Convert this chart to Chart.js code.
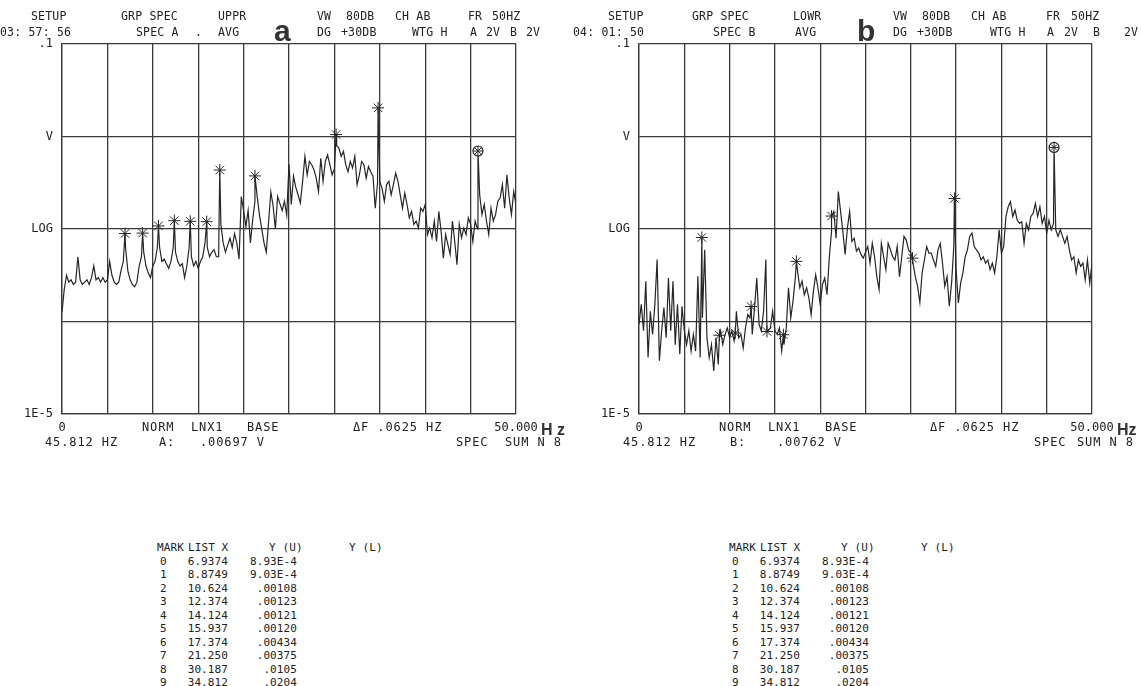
<!DOCTYPE html>
<html>
<head>
<meta charset="utf-8">
<script src="https://cdn.jsdelivr.net/npm/chart.js@4.4.1/dist/chart.umd.min.js"></script>
<style>
body { margin: 0; background: #fff; }
#page { position: relative; width: 1141px; height: 686px; overflow: hidden; background: #fff;
        font-family: "DejaVu Sans Mono", monospace; color: #222; }
canvas { position: absolute; top: 0; }
.t { position: absolute; font-size: 12px; line-height: 12px; letter-spacing: 0.9px; white-space: pre; color: #222; }
.h { position: absolute; font-size: 11.5px; line-height: 12px; letter-spacing: 0.2px; white-space: pre; color: #222; }
.m { position: absolute; font-size: 11px; line-height: 12px; letter-spacing: 0.1px; white-space: pre; color: #222; }
.big { position: absolute; font-family: "Liberation Sans", Arial, sans-serif; font-weight: bold;
       font-size: 30px; line-height: 30px; color: #333; }
.hz { position: absolute; font-family: "Liberation Sans", Arial, sans-serif; font-weight: bold;
      font-size: 16px; line-height: 16px; white-space: pre; color: #333; }
</style>
</head>
<body>
<div id="page">
  <canvas id="chartA" width="570" height="470" style="left:0"></canvas>
  <canvas id="chartB" width="571" height="470" style="left:570px"></canvas>
</div>
<script>
// DATA

var traceStepHz = 0.25;   // spacing of the trace samples, 0 .. 50 Hz

// spectrum A (upper), dB re 1 V, one row per 5 Hz
var traceA_dB = [
  -78,-73,-70,-71.5,-71,-72,-71.5,-66,-71,-72,-71.5,-71,-72,-70.5,-68,-71,-70.5,-71.5,-70.5,-71.5,
  -71,-67,-70,-71.5,-72,-71.5,-69,-67,-64,-69,-71,-72,-72.5,-71.5,-68,-66,-65,-68,-69.5,-70.5,
  -68,-67,-64,-64,-67,-66.5,-67.5,-68.5,-67,-64,-65,-67,-68,-67.5,-70.5,-68,-64,-66,-68,-67,
  -68.5,-67,-66,-63,-64,-66,-65,-64.5,-66,-66,-59,-63,-65,-63.5,-62,-64,-61,-63,-66.5,-53,
  -56,-59.5,-56,-63,-58,-54,-53,-57,-60,-63,-65,-58.5,-52,-55,-60,-53,-54.5,-56,-54,-57,
  -46,-54.7,-48.6,-51,-52.6,-54.4,-49.7,-44.3,-48.3,-45.4,-46.1,-47.2,-49,-51.9,-44.7,-49.7,-45.4,-44,-46.1,-48.3,
  -47,-42,-42.5,-44.3,-43.2,-46.1,-47.6,-45.4,-46.8,-44.3,-50.4,-48.3,-45.4,-46.1,-49,-46.5,-47.6,-48.6,-55.5,-50,
  -49.7,-51.2,-54,-50.4,-49.7,-52.6,-50.4,-47.9,-49.7,-52.6,-55.5,-52.2,-54.7,-57.6,-56.2,-59,-58.3,-59.8,-55.5,-56.2,
  -54.7,-61.2,-59.8,-61.9,-58.3,-62.7,-56.2,-60.5,-66.3,-61.2,-63.4,-65.5,-58.3,-62.7,-67.7,-59,-61.9,-59.8,-61.2,-57.6,
  -59,-62.7,-58.3,-60,-52.6,-56.9,-54.7,-58.3,-61.2,-55.5,-58.3,-56.9,-54,-53.3,-50.4,-55.5,-48.3,-53.3,-56.9,-51.9,
  -54.7
];

// spectrum B (lower), dB re 1 V, one row per 5 Hz
var traceB_dB = [
  -80.6,-76.3,-82,-71.3,-87.8,-77.8,-82.8,-76.3,-66.6,-88.5,-82,-77,-83.5,-70.6,-82,-71.3,-85,-76.3,-87.1,-76.7,
  -82,-85,-82,-86.4,-82.8,-86.4,-70.2,-87.8,-79.2,-64.5,-83.5,-87.8,-85,-90.7,-83.5,-89.3,-82,-85,-82.8,-81.4,
  -83.5,-82,-84.2,-77.8,-83.5,-82.8,-85.7,-81.4,-78.5,-79.2,-82.8,-77,-70.6,-80.6,-82,-77.8,-66.6,-82,-81.4,-77.8,
  -82,-82.8,-81.4,-86.4,-85,-81.4,-72.7,-79.2,-75.6,-70.6,-69.1,-72.7,-71.3,-74.2,-72.7,-74.9,-78.5,-73.5,-69.9,-72.7,
  -76.3,-72,-70.6,-74.2,-66.3,-60.5,-56.2,-62,-51.9,-56.2,-60.5,-65.5,-59.8,-56.2,-62.7,-62,-64.8,-64.1,-65.5,-66.3,
  -65,-63.8,-67.4,-63.1,-66,-70.3,-73.1,-63.1,-66,-68.8,-63.1,-64.5,-66,-66.7,-63.8,-70.3,-66,-61.6,-62.4,-64.5,
  -65.2,-67.4,-70.3,-72.4,-75.9,-69.5,-66.7,-63.8,-65.2,-65.2,-66.7,-68.1,-64.5,-63.1,-67.4,-72.4,-70.3,-76.7,-71.7,-63.8,
  -68.8,-76,-71.7,-69.5,-66,-64.5,-61.6,-60.9,-63.8,-64.5,-65.2,-66.7,-66,-67.4,-66.7,-68.8,-67.4,-69.5,-66,-60.2,
  -65.2,-63.8,-57.3,-55.2,-54.1,-57.3,-55.9,-58.1,-58.8,-58.4,-63.1,-58.8,-60.2,-57.3,-56.6,-54.5,-57.3,-55.2,-58.8,-57.3,
  -60.9,-58.1,-60.2,-58.8,-60.2,-61.6,-60.2,-61.6,-63.1,-61.6,-64.5,-66.7,-66,-69.5,-66.7,-68.1,-67.4,-71,-66.7,-71.7,
  -67.4
];

// marker list (Hz, V)
var markX  = [6.9374, 8.8749, 10.624, 12.374, 14.124, 15.937, 17.374, 21.250, 30.187, 34.812];
var markYA = [8.93e-4, 9.03e-4, 0.00108, 0.00123, 0.00121, 0.00120, 0.00434, 0.00375, 0.0105, 0.0204];
var markYB = [8.1e-4, 7.1e-5, 7.5e-5, 1.45e-4, 7.8e-5, 7.2e-5, 4.47e-4, 1.38e-3, 4.84e-4, 2.14e-3];

// cursor readout
var cursorX  = 45.812;
var cursorYA = 0.00697;
var cursorYB = 0.00762;

// axes
var yTickValues = [1e-5, 1e-4, 1e-3, 1e-2, 1e-1];
var yTickLabels = ['1E-5', '', 'LOG', 'V', '.1'];

// printed mark list
var markListIdx = ['0', '1', '2', '3', '4', '5', '6', '7', '8', '9'];
var markListX = ['6.9374', '8.8749', '10.624', '12.374', '14.124', '15.937', '17.374', '21.250', '30.187', '34.812'];
var markListY = ['8.93E-4', '9.03E-4', '.00108', '.00123', '.00121', '.00120', '.00434', '.00375', '.0105', '.0204'];


// CHARTS

var ink = '#262626';
var gridInk = '#3a3a3a';
Chart.defaults.font.family = '"DejaVu Sans Mono", monospace';
Chart.defaults.font.size = 12;
Chart.defaults.color = '#222';

function buildTrace(dB, mY, cY) {
  var pts = dB.map(function (d, i) { return { x: i * traceStepHz, y: Math.pow(10, d / 20) }; });
  markX.forEach(function (x, i) { pts.push({ x: x, y: mY[i] }); });
  pts.push({ x: cursorX, y: cY });
  pts.sort(function (a, b) { return a.x - b.x; });
  return pts;
}

function makePanel(id, dB, mY, cY, axisWidth, padRight) {
  var marks = markX.map(function (x, i) { return { x: x, y: mY[i] }; });
  var cur = [{ x: cursorX, y: cY }];
  return new Chart(document.getElementById(id), {
    type: 'line',
    data: {
      datasets: [
        { data: marks, showLine: false, pointStyle: 'star', pointRadius: 6,
          pointBorderColor: ink, pointBorderWidth: 1, pointBackgroundColor: 'transparent' },
        { data: cur, showLine: false, pointStyle: 'crossRot', pointRadius: 4,
          pointBorderColor: ink, pointBorderWidth: 1 },
        { data: cur, showLine: false, pointStyle: 'cross', pointRadius: 5,
          pointBorderColor: ink, pointBorderWidth: 1 },
        { data: cur, showLine: false, pointStyle: 'circle', pointRadius: 5,
          pointBorderColor: ink, pointBorderWidth: 1.2, pointBackgroundColor: '#fff' },
        { data: buildTrace(dB, mY, cY), borderColor: ink, borderWidth: 1.2,
          pointRadius: 0, tension: 0, fill: false }
      ]
    },
    options: {
      responsive: false,
      animation: false,
      devicePixelRatio: 1,
      layout: { padding: { left: 0, right: padRight, top: 44, bottom: 28 } },
      plugins: { legend: { display: false }, tooltip: { enabled: false } },
      scales: {
        x: {
          type: 'linear', min: 0, max: 50,
          afterFit: function (s) { s.height = 28; },
          ticks: { stepSize: 5, autoSkip: false, maxRotation: 0, padding: 7, color: '#222',
            callback: function (v) { return v === 0 ? '0' : (v === 50 ? '50.000' : ''); } },
          grid: { color: gridInk, lineWidth: 1.3, drawTicks: false },
          border: { color: gridInk, width: 1.3 }
        },
        y: {
          type: 'logarithmic', min: 1e-5, max: 0.1,
          afterFit: function (s) { s.width = axisWidth; },
          afterBuildTicks: function (s) { s.ticks = yTickValues.map(function (v) { return { value: v }; }); },
          ticks: { padding: 9, color: '#222',
            callback: function (v, i) { return yTickLabels[i]; } },
          grid: { color: gridInk, lineWidth: 1.3, drawTicks: false },
          border: { color: gridInk, width: 1.3 }
        }
      }
    }
  });
}

makePanel('chartA', traceA_dB, markYA, cursorYA, 62, 54);
makePanel('chartB', traceB_dB, markYB, cursorYB, 69, 49);


// TEXT AROUND THE PLOTS

var page = document.getElementById('page');
function put(text, x, y, cls, right) {
  var el = document.createElement('div');
  el.className = cls || 't';
  el.textContent = text;
  if (right) { el.style.left = (x - 200) + 'px'; el.style.width = '200px'; el.style.textAlign = 'right'; }
  else el.style.left = x + 'px';
  el.style.top = (y - 6) + 'px';
  page.appendChild(el);
}

// header A
[['SETUP', 31, 16], ['GRP SPEC', 121, 16], ['UPPR', 218, 16], ['VW', 317, 16], ['80DB', 346, 16],
 ['CH AB', 395, 16], ['FR', 468, 16], ['50HZ', 492, 16],
 ['03: 57: 56', 0, 32], ['SPEC A', 136, 32], ['.', 195, 32], ['AVG', 218, 32], ['DG', 317, 32],
 ['+30DB', 341, 32], ['WTG H', 412, 32], ['A', 470, 32], ['2V', 486, 32], ['B', 510, 32], ['2V', 526, 32]
].forEach(function (a) { put(a[0], a[1], a[2], 'h'); });
put('a', 274, 22, 'big');

// header B
[['SETUP', 608, 16], ['GRP SPEC', 692, 16], ['LOWR', 793, 16], ['VW', 893, 16], ['80DB', 922, 16],
 ['CH AB', 971, 16], ['FR', 1046, 16], ['50HZ', 1071, 16],
 ['04: 01: 50', 573, 32], ['SPEC B', 713, 32], ['AVG', 795, 32], ['DG', 893, 32], ['+30DB', 917, 32],
 ['WTG H', 990, 32], ['A', 1047, 32], ['2V', 1064, 32], ['B', 1093, 32], ['2V', 1124, 32]
].forEach(function (a) { put(a[0], a[1], a[2], 'h'); });
put('b', 857, 22, 'big');

// footer A
[['NORM', 142, 427], ['LNX1', 191, 427], ['BASE', 247, 427], ['\u0394F .0625 HZ', 353, 427],
 ['45.812 HZ', 45, 442], ['A:', 159, 442], ['.00697 V', 200, 442], ['SPEC', 456, 442], ['SUM N 8', 505, 442]
].forEach(function (a) { put(a[0], a[1], a[2]); });
put('H z', 541, 428, 'hz');

// footer B
[['NORM', 719, 427], ['LNX1', 768, 427], ['BASE', 825, 427], ['\u0394F .0625 HZ', 930, 427],
 ['45.812 HZ', 623, 442], ['B:', 730, 442], ['.00762 V', 777, 442], ['SPEC', 1034, 442], ['SUM N 8', 1077, 442]
].forEach(function (a) { put(a[0], a[1], a[2]); });
put('Hz', 1117, 428, 'hz');

// mark list tables
function table(x0) {
  var top = 548, rowH = 13.5;
  put('MARK', x0, top, 'm'); put('LIST X', x0 + 31, top, 'm');
  put('Y (U)', x0 + 112, top, 'm'); put('Y (L)', x0 + 192, top, 'm');
  markListIdx.forEach(function (m, i) {
    var y = top + (i + 1) * rowH;
    put(m, x0 + 3, y, 'm');
    put(markListX[i], x0 + 71, y, 'm', true);
    put(markListY[i], x0 + 140, y, 'm', true);
  });
}
table(157);
table(729);
</script>
</body>
</html>
